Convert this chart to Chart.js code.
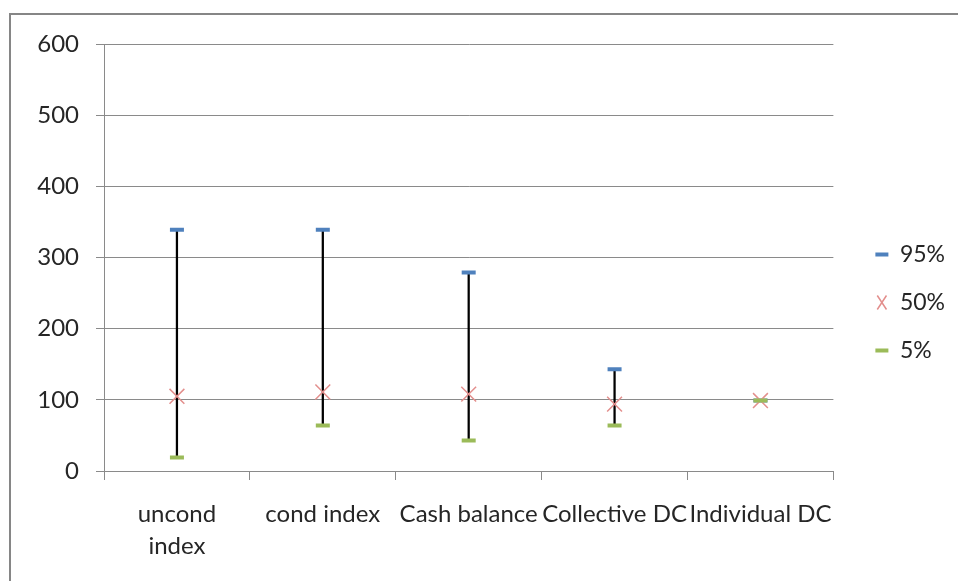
<!DOCTYPE html>
<html>
<head>
<meta charset="utf-8">
<script src="https://cdn.jsdelivr.net/npm/chart.js@4/dist/chart.umd.min.js"></script>
<style>
  html, body { margin: 0; padding: 0; background: #fff; overflow: hidden; }
  #wrap { position: absolute; left: 0; top: 0; width: 958px; height: 581px; }
  #frame { position: absolute; left: 9px; top: 13px; width: 1200px; height: 900px;
           border-left: 2px solid #868686; border-top: 2px solid #868686; box-sizing: border-box; }
  canvas { position: absolute; left: 0; top: 0; }
</style>
</head>
<body>
<div id="wrap">
  <div id="frame"></div>
  <canvas id="c" width="958" height="581"></canvas>
</div>
<script>
const categories = [["uncond", "index"], "cond index", "Cash balance", "Collective DC", "Individual DC"];
const p95 = [339, 339, 279, 143, 99];
const p50 = [105, 111, 108, 94, 99];
const p5 = [19, 64, 43, 64, 99];
const yTicks = [0, 100, 200, 300, 400, 500, 600];
const seriesNames = ["95%", "50%", "5%"];

const FONT = "Lato";
const GRID = "#8a8a8a";
const TEXT = "#262626";

const ranges = p5.map((lo, i) => [lo, p95[i]]);

new Chart(document.getElementById("c"), {
  type: "bar",
  data: {
    labels: categories,
    datasets: [
      { label: "range", data: ranges, backgroundColor: "#000", borderWidth: 0,
        barThickness: 1.6, order: 4 },
      { type: "line", label: seriesNames[0], data: p95, showLine: false,
        pointStyle: "line", pointRadius: 7, pointBorderWidth: 4,
        borderColor: "#4F81BD", backgroundColor: "#4F81BD", order: 3 },
      { type: "line", label: seriesNames[1], data: p50, showLine: false,
        pointStyle: "crossRot", pointRadius: 10.5, pointBorderWidth: 1.5,
        borderColor: "#E38F8D", backgroundColor: "#E38F8D", order: 2 },
      { type: "line", label: seriesNames[2], data: p5, showLine: false,
        pointStyle: "line", pointRadius: 7, pointBorderWidth: 4,
        borderColor: "#9BBB59", backgroundColor: "#9BBB59", order: 1 }
    ]
  },
  options: {
    responsive: false,
    animation: false,
    devicePixelRatio: 1,
    layout: { padding: { top: 44, left: 0, right: 3, bottom: 20 } },
    plugins: {
      tooltip: { enabled: false },
      legend: {
        position: "right",
        labels: {
          usePointStyle: true,
          pointStyleWidth: 13,
          boxHeight: 14,
          padding: 25,
          color: TEXT,
          font: { family: FONT, size: 23 },
          filter: (item) => item.datasetIndex !== 0,
          sort: (a, b) => a.datasetIndex - b.datasetIndex
        }
      }
    },
    scales: {
      x: {
        offset: true,
        grid: { display: true, offset: true, drawOnChartArea: false, drawTicks: true,
                tickLength: 9, color: GRID, lineWidth: 1 },
        border: { display: true, color: GRID, width: 1 },
        ticks: { color: TEXT, font: { family: FONT, size: 24, lineHeight: 1.33 },
                 padding: 18, maxRotation: 0, autoSkip: false },
        afterFit: (a) => { a.height = 90; }
      },
      y: {
        min: 0, max: 600,
        afterBuildTicks: (a) => { a.ticks = yTicks.map(v => ({ value: v })); },
        grid: { color: GRID, lineWidth: 1, tickLength: 8, drawTicks: true },
        border: { display: true, color: GRID, width: 1 },
        ticks: { color: TEXT, font: { family: FONT, size: 24 }, padding: 17 },
        afterFit: (a) => { a.width = 104; }
      },
      y2: {
        position: "right",
        display: true,
        grid: { display: false, drawTicks: false },
        border: { display: false },
        ticks: { display: false },
        afterFit: (a) => { a.width = 17; }
      }
    }
  }
});
</script>
</body>
</html>
